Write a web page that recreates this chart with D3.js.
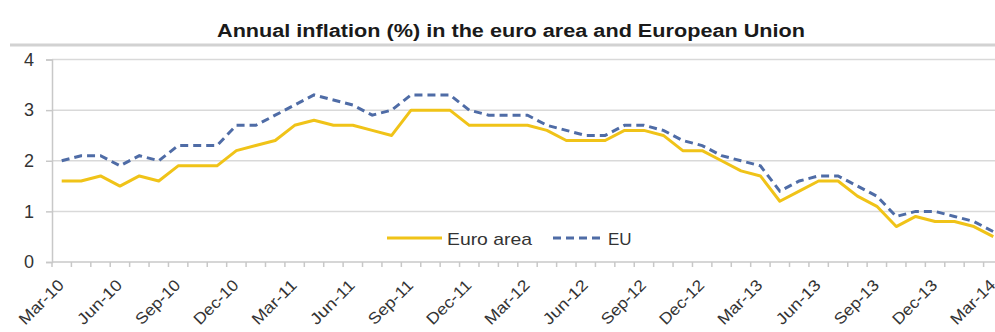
<!DOCTYPE html>
<html>
<head>
<meta charset="utf-8">
<script src="https://cdn.jsdelivr.net/npm/d3@7"></script>
<style>
  body { margin: 0; background: #fff; }
  text { font-family: "Liberation Sans", Arial, sans-serif; }
</style>
</head>
<body>
<div id="chart"></div>
<script>
// months shown on the category axis
var months = [
  "Mar-10","Apr-10","May-10","Jun-10","Jul-10","Aug-10","Sep-10","Oct-10","Nov-10","Dec-10",
  "Jan-11","Feb-11","Mar-11","Apr-11","May-11","Jun-11","Jul-11","Aug-11","Sep-11","Oct-11","Nov-11","Dec-11",
  "Jan-12","Feb-12","Mar-12","Apr-12","May-12","Jun-12","Jul-12","Aug-12","Sep-12","Oct-12","Nov-12","Dec-12",
  "Jan-13","Feb-13","Mar-13","Apr-13","May-13","Jun-13","Jul-13","Aug-13","Sep-13","Oct-13","Nov-13","Dec-13",
  "Jan-14","Feb-14","Mar-14"
];

var euroArea = [
  1.6,1.6,1.7,1.5,1.7,1.6,1.9,1.9,1.9,2.2,
  2.3,2.4,2.7,2.8,2.7,2.7,2.6,2.5,3.0,3.0,3.0,2.7,
  2.7,2.7,2.7,2.6,2.4,2.4,2.4,2.6,2.6,2.5,2.2,2.2,
  2.0,1.8,1.7,1.2,1.4,1.6,1.6,1.3,1.1,0.7,0.9,0.8,
  0.8,0.7,0.5
];

var eu = [
  2.0,2.1,2.1,1.9,2.1,2.0,2.3,2.3,2.3,2.7,
  2.7,2.9,3.1,3.3,3.2,3.1,2.9,3.0,3.3,3.3,3.3,3.0,
  2.9,2.9,2.9,2.7,2.6,2.5,2.5,2.7,2.7,2.6,2.4,2.3,
  2.1,2.0,1.9,1.4,1.6,1.7,1.7,1.5,1.3,0.9,1.0,1.0,
  0.9,0.8,0.6
];

var tickLabels = ["Mar-10","Jun-10","Sep-10","Dec-10","Mar-11","Jun-11","Sep-11","Dec-11",
  "Mar-12","Jun-12","Sep-12","Dec-12","Mar-13","Jun-13","Sep-13","Dec-13","Mar-14"];
var yTicks = [0, 1, 2, 3, 4];

var svgWidth = 995;
var svgHeight = 332;

var svg = d3.select("#chart")
  .append("svg")
  .attr("width", svgWidth)
  .attr("height", svgHeight);

// band scale: ticks sit between months, points in the middle
var x = d3.scaleBand()
  .domain(months)
  .range([52, 1003])
  .padding(0);

var y = d3.scaleLinear()
  .domain([0, 4])
  .range([262, 59.5]);

var xMid = d => x(d) + x.bandwidth() / 2;

// title and the grey rule below it
svg.append("text")
  .attr("x", 511)
  .attr("y", 37)
  .attr("text-anchor", "middle")
  .attr("font-size", "18px")
  .attr("font-weight", "700")
  .attr("fill", "#1a1a1a")
  .attr("textLength", 588)
  .attr("lengthAdjust", "spacingAndGlyphs")
  .text("Annual inflation (%) in the euro area and European Union");

svg.append("line")
  .attr("x1", 10).attr("x2", 995)
  .attr("y1", 45).attr("y2", 45)
  .attr("stroke", "#d2d2d2")
  .attr("stroke-width", 3);

// gridlines
svg.append("g")
  .selectAll("line")
  .data(yTicks.filter(d => d > 0))
  .enter()
  .append("line")
  .attr("x1", 52).attr("x2", 995)
  .attr("y1", d => y(d)).attr("y2", d => y(d))
  .attr("stroke", "#d9d9d9")
  .attr("stroke-width", 1.5);

// y axis
var leftAxis = d3.axisLeft(y)
  .tickValues(yTicks)
  .tickSize(6)
  .tickPadding(12)
  .tickFormat(d3.format("d"));

var yAxisG = svg.append("g")
  .attr("transform", "translate(52,0)")
  .call(leftAxis);
yAxisG.select(".domain").attr("stroke", "#c8c8c8").attr("stroke-width", 1.5);
yAxisG.selectAll(".tick line").attr("stroke", "#c8c8c8").attr("stroke-width", 1.5);
yAxisG.selectAll(".tick text")
  .attr("font-size", "18px")
  .attr("font-family", "Liberation Sans, Arial, sans-serif")
  .attr("fill", "#333");

// x axis: line plus a tick at every month boundary
var xAxisG = svg.append("g");
xAxisG.append("line")
  .attr("x1", 52).attr("x2", 1003)
  .attr("y1", y(0)).attr("y2", y(0))
  .attr("stroke", "#c8c8c8")
  .attr("stroke-width", 1.5);

xAxisG.selectAll(".xtick")
  .data(months)
  .enter()
  .append("line")
  .attr("class", "xtick")
  .attr("x1", d => x(d)).attr("x2", d => x(d))
  .attr("y1", y(0)).attr("y2", y(0) + 5)
  .attr("stroke", "#c8c8c8")
  .attr("stroke-width", 1.5);

xAxisG.selectAll(".xlabel")
  .data(tickLabels)
  .enter()
  .append("text")
  .attr("class", "xlabel")
  .attr("transform", d => `translate(${xMid(d) - 5}, ${y(0) + 16}) rotate(-45)`)
  .attr("text-anchor", "end")
  .attr("dy", "0.72em")
  .attr("font-size", "16px")
  .attr("fill", "#333")
  .attr("textLength", 56)
  .attr("lengthAdjust", "spacingAndGlyphs")
  .text(d => d);

// lines
var lineGen = d3.line()
  .x((d, i) => xMid(months[i]))
  .y(d => y(d));

svg.append("path")
  .datum(eu)
  .attr("d", lineGen)
  .attr("fill", "none")
  .attr("stroke", "#4f6ca6")
  .attr("stroke-width", 3)
  .attr("stroke-dasharray", "8,5");

svg.append("path")
  .datum(euroArea)
  .attr("d", lineGen)
  .attr("fill", "none")
  .attr("stroke", "#f0c318")
  .attr("stroke-width", 3)
  .attr("stroke-linejoin", "round");

// legend
var legend = svg.append("g");
legend.append("line")
  .attr("x1", 387).attr("x2", 442)
  .attr("y1", 238).attr("y2", 238)
  .attr("stroke", "#f0c318")
  .attr("stroke-width", 3);
legend.append("text")
  .attr("x", 447).attr("y", 245)
  .attr("font-size", "17px")
  .attr("fill", "#333")
  .attr("textLength", 85)
  .attr("lengthAdjust", "spacingAndGlyphs")
  .text("Euro area");
legend.append("line")
  .attr("x1", 553).attr("x2", 601)
  .attr("y1", 238).attr("y2", 238)
  .attr("stroke", "#4f6ca6")
  .attr("stroke-width", 3)
  .attr("stroke-dasharray", "8,5");
legend.append("text")
  .attr("x", 608).attr("y", 245)
  .attr("font-size", "17px")
  .attr("fill", "#333")
  .text("EU");
</script>
</body>
</html>
